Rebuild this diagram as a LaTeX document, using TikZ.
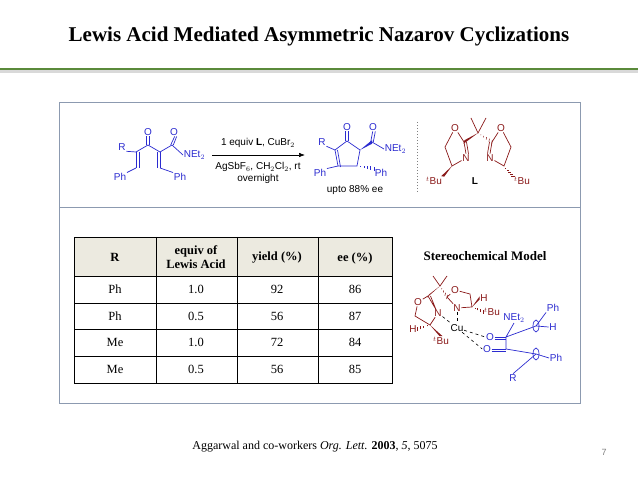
\documentclass[tikz,border=0pt]{standalone}
\usepackage{fontspec}
\setmainfont{Liberation Serif}
\newfontfamily\chem{Liberation Sans}
\usetikzlibrary{arrows.meta,calc}
\definecolor{cb}{HTML}{2B2BD0}
\definecolor{cr}{HTML}{8B1A1A}
\definecolor{hdr}{HTML}{ECEAE0}
\definecolor{frame}{HTML}{8C9AB0}
\definecolor{grn}{HTML}{5A8A3A}
\tikzset{
 lb/.style={font=\chem\fontsize{10}{11}\selectfont, inner sep=0.5pt},
 bd/.style={line width=0.7pt},
 cell/.style={font=\fontsize{12.5}{14}\selectfont, align=center},
}
\begin{document}
\begin{tikzpicture}[x=1pt,y=-1pt]
\useasboundingbox (0,0) rectangle (638,478);
\fill[white] (0,0) rectangle (638,478);
% title
\node[font=\bfseries\fontsize{21}{25}\selectfont] (title) at (319,36) {Lewis Acid Mediated Asymmetric Nazarov Cyclizations};
\fill[gray!30] (0,70.5) rectangle (638,73);
\fill[grn] (0,68) rectangle (638,70.5);
% frame
\draw[frame, line width=1pt] (59,103) rectangle (580,404);
\draw[frame, line width=1pt] (59,208) -- (580,208);
% ---------- starting material ----------
\begin{scope}[cb, bd]
\coordinate (c1) at (148,145); \coordinate (c2) at (136,152); \coordinate (c3) at (160,152);
\coordinate (c4) at (136,168); \coordinate (c6) at (160,168); \coordinate (c5) at (172,145);
\node[lb, text=cb] (o1) at (148,132) {O};
\node[lb, text=cb] (o2) at (174,132) {O};
\node[lb, text=cb] (r1) at (122,147) {R};
\node[lb, text=cb, anchor=west] (n1) at (183,155) {NEt$_2$};
\node[lb, text=cb] (ph1) at (120,177) {Ph};
\node[lb, text=cb] (ph2) at (180,177) {Ph};
\draw (c2)--(c1)--(c3)--(c5)--(n1.west);
\draw ([xshift=-1.3pt]c1)--([xshift=-1.3pt]o1.south) ([xshift=1.3pt]c1)--([xshift=1.3pt]o1.south);
\draw ([xshift=-1.3pt]c5)--([xshift=0.7pt]o2.south) ([xshift=1.3pt]c5)--([xshift=2.7pt]o2.south);
\draw (c2)--(r1.south east);
\draw (c2)--(c4) ([xshift=3pt]c2)--([xshift=3pt]c4);
\draw (c3)--(c6) ([xshift=-3pt]c3)--([xshift=-3pt]c6);
\draw (c4)--(ph1.north east);
\draw (c6)--(ph2.north west);
\end{scope}
% arrow
\coordinate (a1) at (212,155); \coordinate (a2) at (305,155);
\draw[-{Latex[length=6pt]}, line width=0.6pt] (a1) -- (a2);
\node[lb] (t1) at (258,143) {1 equiv \textbf{L}, CuBr$_2$};
\node[lb] (t2) at (258,167) {AgSbF$_6$, CH$_2$Cl$_2$, rt};
\node[lb] (t3) at (258,179) {overnight};
% ---------- product ----------
\begin{scope}[cb, bd]
\coordinate (p1) at (347,141); \coordinate (p2) at (335,150); \coordinate (p3) at (338,166);
\coordinate (p4) at (357,166); \coordinate (p5) at (360,150); \coordinate (p6) at (372,142);
\node[lb, text=cb] (po1) at (347,127) {O};
\node[lb, text=cb] (po2) at (373,127) {O};
\node[lb, text=cb] (pr) at (322,142) {R};
\node[lb, text=cb, anchor=west] (pn) at (384,149) {NEt$_2$};
\node[lb, text=cb] (pph1) at (320,173) {Ph};
\node[lb, text=cb] (pph2) at (381,173) {Ph};
\draw (p1)--(p2)--(p3)--(p4)--(p5)--(p1);
\draw ([xshift=2.5pt]p2)--([xshift=2.5pt,yshift=-1pt]p3);
\draw ([xshift=-1.3pt]p1)--([xshift=-1.3pt]po1.south) ([xshift=1.3pt]p1)--([xshift=1.3pt]po1.south);
\draw ([xshift=-1.3pt]p6)--([xshift=-0.3pt]po2.south) ([xshift=1.3pt]p6)--([xshift=2.3pt]po2.south);
\draw (p6)--(pn.west);
\draw (p2)--(pr.south east);
\draw (p3)--(pph1.north east);
\fill (p5) -- ($(p6)+(0,-1.8)$) -- ($(p6)+(0,1.8)$) -- cycle;
\foreach \t in {0.2,0.4,0.6,0.8,1.0}{\draw[line width=0.6pt] ($(p4)!\t!(pph2.north west)+(0,-\t*2pt)$) -- ($(p4)!\t!(pph2.north west)+(0,\t*2pt)$);}
\end{scope}
\node[lb] (ee) at (355,190) {upto 88\% ee};
% separator
\draw[gray, dotted, line width=1pt] (417,122) -- (417,192);
% ---------- ligand L ----------
\begin{scope}[cr, bd]
\coordinate (q) at (478,133);
\coordinate (m1) at (471,118); \coordinate (m2) at (486,118);
\coordinate (l2) at (464,142); \coordinate (l5) at (445,147); \coordinate (l4) at (452,166);
\coordinate (r2) at (492,142); \coordinate (r5) at (511,147); \coordinate (r4) at (504,166);
\node[lb, text=cr] (lo) at (455,128) {O};
\node[lb, text=cr] (ln) at (466,158) {N};
\node[lb, text=cr] (ro) at (501,128) {O};
\node[lb, text=cr] (rn) at (490,158) {N};
\node[lb, text=cr] (ltb) at (434,181) {$^t$Bu};
\node[lb, text=cr] (rtb) at (522,181) {$^t$Bu};
\draw (m1)--(q)--(m2);
\draw (lo)--(l2) (l2)--(ln.north) ([xshift=2.5pt]l2)--([xshift=2.5pt]ln.north) (ln)--(l4)--(l5)--(lo);
\draw (ro)--(r2) (r2)--(rn.north) ([xshift=-2.5pt]r2)--([xshift=-2.5pt]rn.north) (rn)--(r4)--(r5)--(ro);
\fill (q) -- ($(l2)+(0.5,-1.8)$) -- ($(l2)+(-0.5,1.8)$) -- cycle;
\fill (l4) -- ($(ltb.north east)+(-1.5,0)$) -- ($(ltb.north east)+(1.5,0.5)$) -- cycle;
\foreach \t in {0.2,0.4,0.6,0.8,1.0}{\draw[line width=0.5pt] ($(q)!\t!(r2)+(-0.3*\t,-\t*2pt)$) -- ($(q)!\t!(r2)+(0.3*\t,\t*2pt)$);}
\foreach \t in {0.2,0.4,0.6,0.8,1.0}{\draw[line width=0.5pt] ($(r4)!\t!(rtb.north west)+(-\t*2pt,0)$) -- ($(r4)!\t!(rtb.north west)+(\t*2pt,0)$);}
\end{scope}
\node[font=\chem\bfseries\fontsize{10}{11}\selectfont] (Lb) at (475,181) {L};
% ---------- table ----------
\fill[hdr] (74,237) rectangle (392,276);
\draw[line width=0.9pt] (74,237) rectangle (392,383);
\foreach \y in {276,303,329,356} \draw[line width=0.9pt] (74,\y) -- (392,\y);
\foreach \x in {156,237,318} \draw[line width=0.9pt] (\x,237) -- (\x,383);
\node[cell, font=\bfseries\fontsize{12.5}{14}\selectfont] (h1) at (115,257) {R};
\node[cell, font=\bfseries\fontsize{12.5}{14}\selectfont] (h2) at (196,257) {equiv of\\Lewis Acid};
\node[cell, font=\bfseries\fontsize{12.5}{14}\selectfont] (h3) at (277,258) {yield (\%)};
\node[cell, font=\bfseries\fontsize{12.5}{14}\selectfont] (h4) at (355,258) {ee (\%)};
\foreach \r/\a/\b/\c/\d in {1/Ph/1.0/92/86, 2/Ph/0.5/56/87, 3/Me/1.0/72/84, 4/Me/0.5/56/85}{
 \pgfmathsetmacro{\yy}{276+26.75*\r-13.4}
 \node[cell] at (115,\yy) {\a};
 \node[cell] at (196,\yy) {\b};
 \node[cell] at (277,\yy) {\c};
 \node[cell] at (355,\yy) {\d};
}
% ---------- stereochemical model ----------
\node[font=\bfseries\fontsize{13}{15}\selectfont] (sm) at (485,256) {Stereochemical Model};
\begin{scope}[cr, bd]
\node[lb, text=cr] (so1) at (418,302) {O};
\node[lb, text=cr] (sn1) at (438,313) {N};
\node[lb, text=cr] (sh1) at (413,329) {H};
\node[lb, text=cr] (stb1) at (441,341) {$^t$Bu};
\node[lb, text=cr] (so2) at (455,290) {O};
\node[lb, text=cr] (sn2) at (457,308) {N};
\node[lb, text=cr] (sh2) at (484,298) {H};
\node[lb, text=cr] (stb2) at (492,312) {$^t$Bu};
\coordinate (sq) at (440,286); \coordinate (sm1) at (433,276); \coordinate (sm2) at (447,276);
\coordinate (sc2a) at (428,296); \coordinate (sc4a) at (430,325); \coordinate (sc5a) at (415,316);
\coordinate (sc2b) at (447,297); \coordinate (sc5b) at (470,294); \coordinate (sc4b) at (472,307);
\draw (sm1)--(sq)--(sm2);
\draw (so1)--(sc2a)--(sn1) ([xshift=2.5pt]sc2a)--([xshift=2.5pt,yshift=-1pt]sn1.north west);
\draw (sn1)--(sc4a)--(sc5a)--(so1);
\fill (sq) -- ($(sc2a)+(1,-1.5)$) -- ($(sc2a)+(-1,1.5)$) -- cycle;
\draw (so2)--(sc5b)--(sc4b)--(sn2)--(sc2b)--(so2);
\foreach \t in {0.25,0.5,0.75,1.0}{\draw[line width=0.5pt] ($(sq)!\t!(sc2b)+(-0.5*\t,-\t*2pt)$) -- ($(sq)!\t!(sc2b)+(0.5*\t,\t*2pt)$);}
\fill (sc4b) -- ($(sh2.west)+(0,-1.5)$) -- ($(sh2.west)+(0,1.5)$) -- cycle;
\foreach \t in {0.25,0.5,0.75,1.0}{\draw[line width=0.5pt] ($(sc4b)!\t!(stb2.west)+(0,-\t*2pt)$) -- ($(sc4b)!\t!(stb2.west)+(0,\t*2pt)$);}
\fill (sc4a) -- ($(stb1.north)+(-1.5,0)$) -- ($(stb1.north)+(1.5,0)$) -- cycle;
\foreach \t in {0.25,0.5,0.75,1.0}{\draw[line width=0.5pt] ($(sc4a)!\t!(sh1.east)+(0,-\t*2pt)$) -- ($(sc4a)!\t!(sh1.east)+(0,\t*2pt)$);}
\end{scope}
\node[lb] (cu) at (457,328) {Cu};
\draw[dashed, line width=0.6pt] (sn1) -- (cu);
\draw[dashed, line width=0.6pt] (sn2) -- (cu);
\begin{scope}[cb, bd]
\node[lb, text=cb] (bo1) at (490,337) {O};
\node[lb, text=cb] (bo2) at (487,349) {O};
\node[lb, text=cb] (bn) at (514,318) {NEt$_2$};
\node[lb, text=cb] (bph1) at (553,308) {Ph};
\node[lb, text=cb] (bh) at (553,327) {H};
\node[lb, text=cb] (bph2) at (556,358) {Ph};
\node[lb, text=cb] (br) at (513,378) {R};
\coordinate (bc1) at (506,337); \coordinate (bc2) at (506,349);
\coordinate (ba) at (536,326); \coordinate (bb) at (536,354);
\draw (bo1.east)--(bc1) ([yshift=-2.5pt]bo1.east)--([yshift=-2.5pt]bc1);
\draw (bo2.east)--(bc2) ([yshift=-2.5pt]bo2.east)--([yshift=-2.5pt]bc2);
\draw (bc1)--(bn.south) (bc1)--(ba) (bc2)--(bb) (bc1)--(bc2);
\draw (ba)--(bph1.south west) (ba)--(bh.west) (bb)--(bph2.west) (bb)--(br.north);
\draw (ba) ellipse (3pt and 6pt); \draw (bb) ellipse (3pt and 6pt);
\end{scope}
\draw[dashed, line width=0.6pt] (cu) -- (bo1.west);
\draw[dashed, line width=0.6pt] (cu) -- (bo2.west);
% footer
\node[font=\fontsize{12}{14}\selectfont] (cite) at (315,447) {Aggarwal and co-workers \textit{Org. Lett.} \textbf{2003}, \textit{5}, 5075};
\node[font=\chem\fontsize{9}{10}\selectfont, text=gray] (pg) at (604,452) {7};
\end{tikzpicture}
\end{document}
